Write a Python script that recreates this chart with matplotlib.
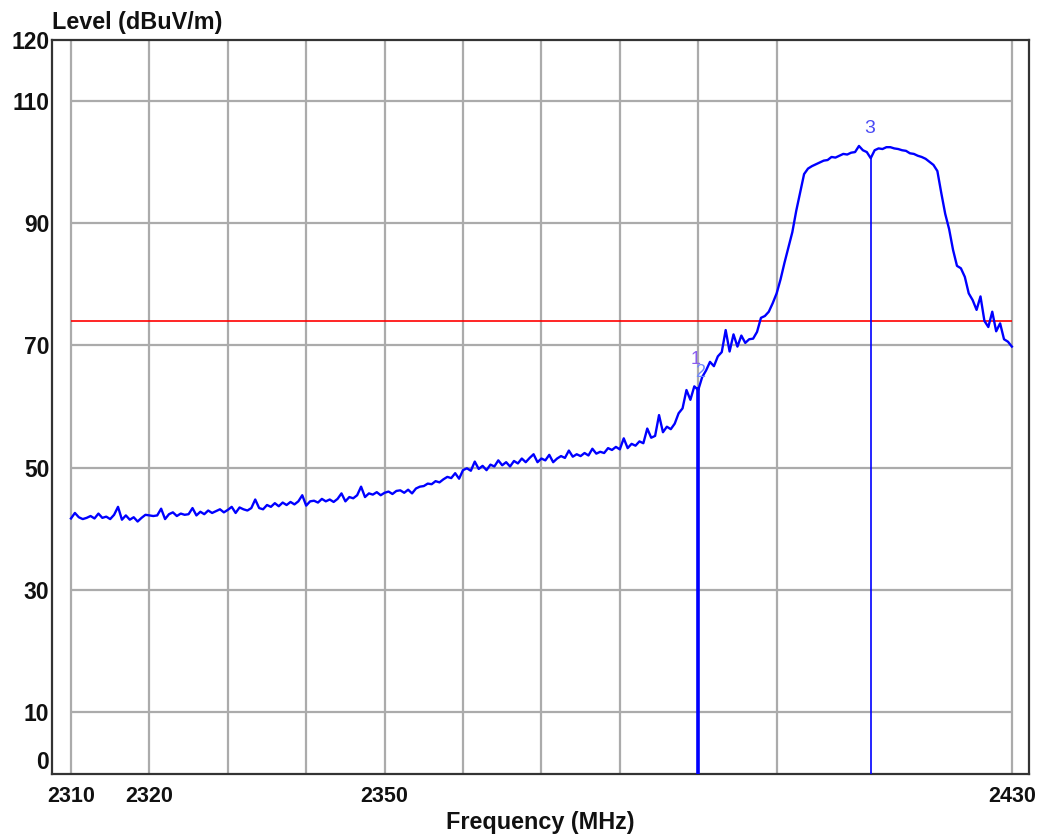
import matplotlib
matplotlib.use('Agg')
import matplotlib.pyplot as plt
import numpy as np

plt.rcParams['font.family'] = ['Liberation Sans', 'DejaVu Sans']

# trace, 0.5 MHz steps from 2310 to 2430
freq_start = 2310.0
freq_step = 0.5
level = [
    41.7, 42.6, 41.9, 41.6, 41.8, 42.1, 41.7, 42.5, 41.8, 42.0,
    41.6, 42.3, 43.6, 41.5, 42.2, 41.5, 41.9, 41.2, 41.8, 42.3,
    42.2, 42.1, 42.2, 43.3, 41.6, 42.4, 42.7, 42.1, 42.5, 42.3,
    42.4, 43.4, 42.2, 42.8, 42.4, 43.0, 42.6, 42.9, 43.2, 42.7,
    43.1, 43.6, 42.6, 43.5, 43.2, 43.0, 43.4, 44.8, 43.4, 43.2,
    43.9, 43.6, 44.2, 43.7, 44.3, 43.9, 44.4, 44.0, 44.5, 45.5,
    43.8, 44.5, 44.6, 44.3, 44.9, 44.5, 44.8, 44.4, 44.9, 45.8,
    44.5, 45.2, 45.0, 45.5, 46.9, 45.2, 45.8, 45.6, 46.0, 45.5,
    45.9, 46.1, 45.7, 46.2, 46.3, 45.9, 46.4, 45.8, 46.6, 46.9,
    47.0, 47.4, 47.3, 47.8, 47.6, 48.1, 48.5, 48.3, 49.1, 48.2,
    49.6, 49.9, 49.5, 51.0, 49.8, 50.3, 49.6, 50.5, 50.2, 51.2,
    50.4, 50.9, 50.2, 51.1, 50.7, 51.5, 50.9, 51.6, 52.2, 50.9,
    51.5, 51.2, 52.1, 50.9, 51.5, 51.9, 51.6, 52.8, 51.8, 52.2,
    51.9, 52.4, 52.0, 53.1, 52.3, 52.6, 52.4, 53.2, 52.9, 53.4,
    53.0, 54.8, 53.2, 53.9, 53.6, 54.3, 54.0, 56.4, 54.9, 55.2,
    58.6, 55.8, 56.7, 56.3, 57.2, 58.9, 59.7, 62.7, 61.1, 63.3,
    62.7, 64.8, 65.9, 67.3, 66.6, 68.2, 68.9, 72.5, 69.0, 71.8,
    69.8, 71.6, 70.4, 71.0, 71.1, 72.2, 74.5, 74.8, 75.5, 76.9,
    78.5, 80.8, 83.5, 86.0, 88.5, 92.0, 95.0, 98.0, 98.9, 99.3,
    99.6, 99.9, 100.2, 100.3, 100.8, 100.7, 101.0, 101.3, 101.2, 101.5,
    101.6, 102.6, 101.9, 101.6, 100.6, 101.9, 102.2, 102.1, 102.4, 102.4,
    102.2, 102.1, 101.9, 101.8, 101.4, 101.3, 101.0, 100.8, 100.5, 100.0,
    99.5, 98.5, 94.9, 91.5, 89.0, 85.6, 83.0, 82.6, 81.2, 78.5,
    77.4, 75.8, 78.0, 74.0, 73.0, 75.5, 72.3, 73.6, 71.0, 70.6,
    69.8,
]
freq = freq_start + freq_step * np.arange(len(level))

limit_level = 74
marker_freq = [2390, 2390, 2412]
marker_level = [63.2, 63.2, 100.9]
marker_name = ['1', '2', '3']

x_grid = [2310, 2320, 2330, 2340, 2350, 2360, 2370, 2380, 2390, 2400, 2430]
y_grid = [10, 30, 50, 70, 90, 110]
x_ticks = [2310, 2320, 2350, 2430]
y_ticks = [0, 10, 30, 50, 70, 90, 110, 120]

fig = plt.figure(figsize=(10.4, 8.34), dpi=100)
ax = fig.add_axes([0.05, 0.0725, 0.939, 0.8801])

# grid only inside the measured span
ax.vlines(x_grid, 0, 120, color='#ababab', lw=1.6, zorder=1)
ax.hlines(y_grid, 2310, 2430, color='#ababab', lw=1.6, zorder=1)

# limit line
ax.hlines(limit_level, 2310, 2430, color='#ff0000', lw=1.2, zorder=2)

# measured trace
ax.plot(freq, level, color='#0000ff', lw=1.7, zorder=3)

# markers
ax.vlines(marker_freq[0], 0, marker_level[0], color='#0000ff', lw=2.6, zorder=4)
ax.vlines(marker_freq[2], 0, marker_level[2], color='#0000ff', lw=1.2, zorder=4)
ax.annotate(marker_name[0], (marker_freq[0], marker_level[0]), xytext=(-3, 27),
            textcoords='offset pixels', ha='center', va='center',
            fontsize=13, color='#8a5cf0', zorder=5)
ax.annotate(marker_name[1], (marker_freq[1], marker_level[1]), xytext=(2, 14),
            textcoords='offset pixels', ha='center', va='center',
            fontsize=13, color='#6f86ff', zorder=5)
ax.annotate(marker_name[2], (marker_freq[2], marker_level[2]), xytext=(-1, 28),
            textcoords='offset pixels', ha='center', va='center',
            fontsize=14, color='#4b4bf5', zorder=5)

ax.set_xlim(2307.58, 2432.13)
ax.set_ylim(0, 120)

ax.set_xticks(x_ticks)
ax.set_xticklabels([str(v) for v in x_ticks], fontsize=15.5, fontweight='bold')
ax.set_yticks(y_ticks)
ax.set_yticklabels([str(v) for v in y_ticks], fontsize=16.5, fontweight='bold')
ax.tick_params(axis='x', length=0, pad=9, colors='#111111')
ax.tick_params(axis='y', length=0, pad=2, colors='#111111')
ax.yaxis.get_major_ticks()[0].label1.set_verticalalignment('bottom')

for s in ax.spines.values():
    s.set_color('#333333')
    s.set_linewidth(1.6)

fig.text(52 / 1040, 1 - 23 / 834, 'Level (dBuV/m)', fontsize=16.8, fontweight='bold',
         ha='left', va='center', color='#111111')
fig.text(540 / 1040, 1 - 822 / 834, 'Frequency (MHz)', fontsize=16.8, fontweight='bold',
         ha='center', va='center', color='#111111')

fig.savefig('out.png', dpi=100, facecolor='white')
